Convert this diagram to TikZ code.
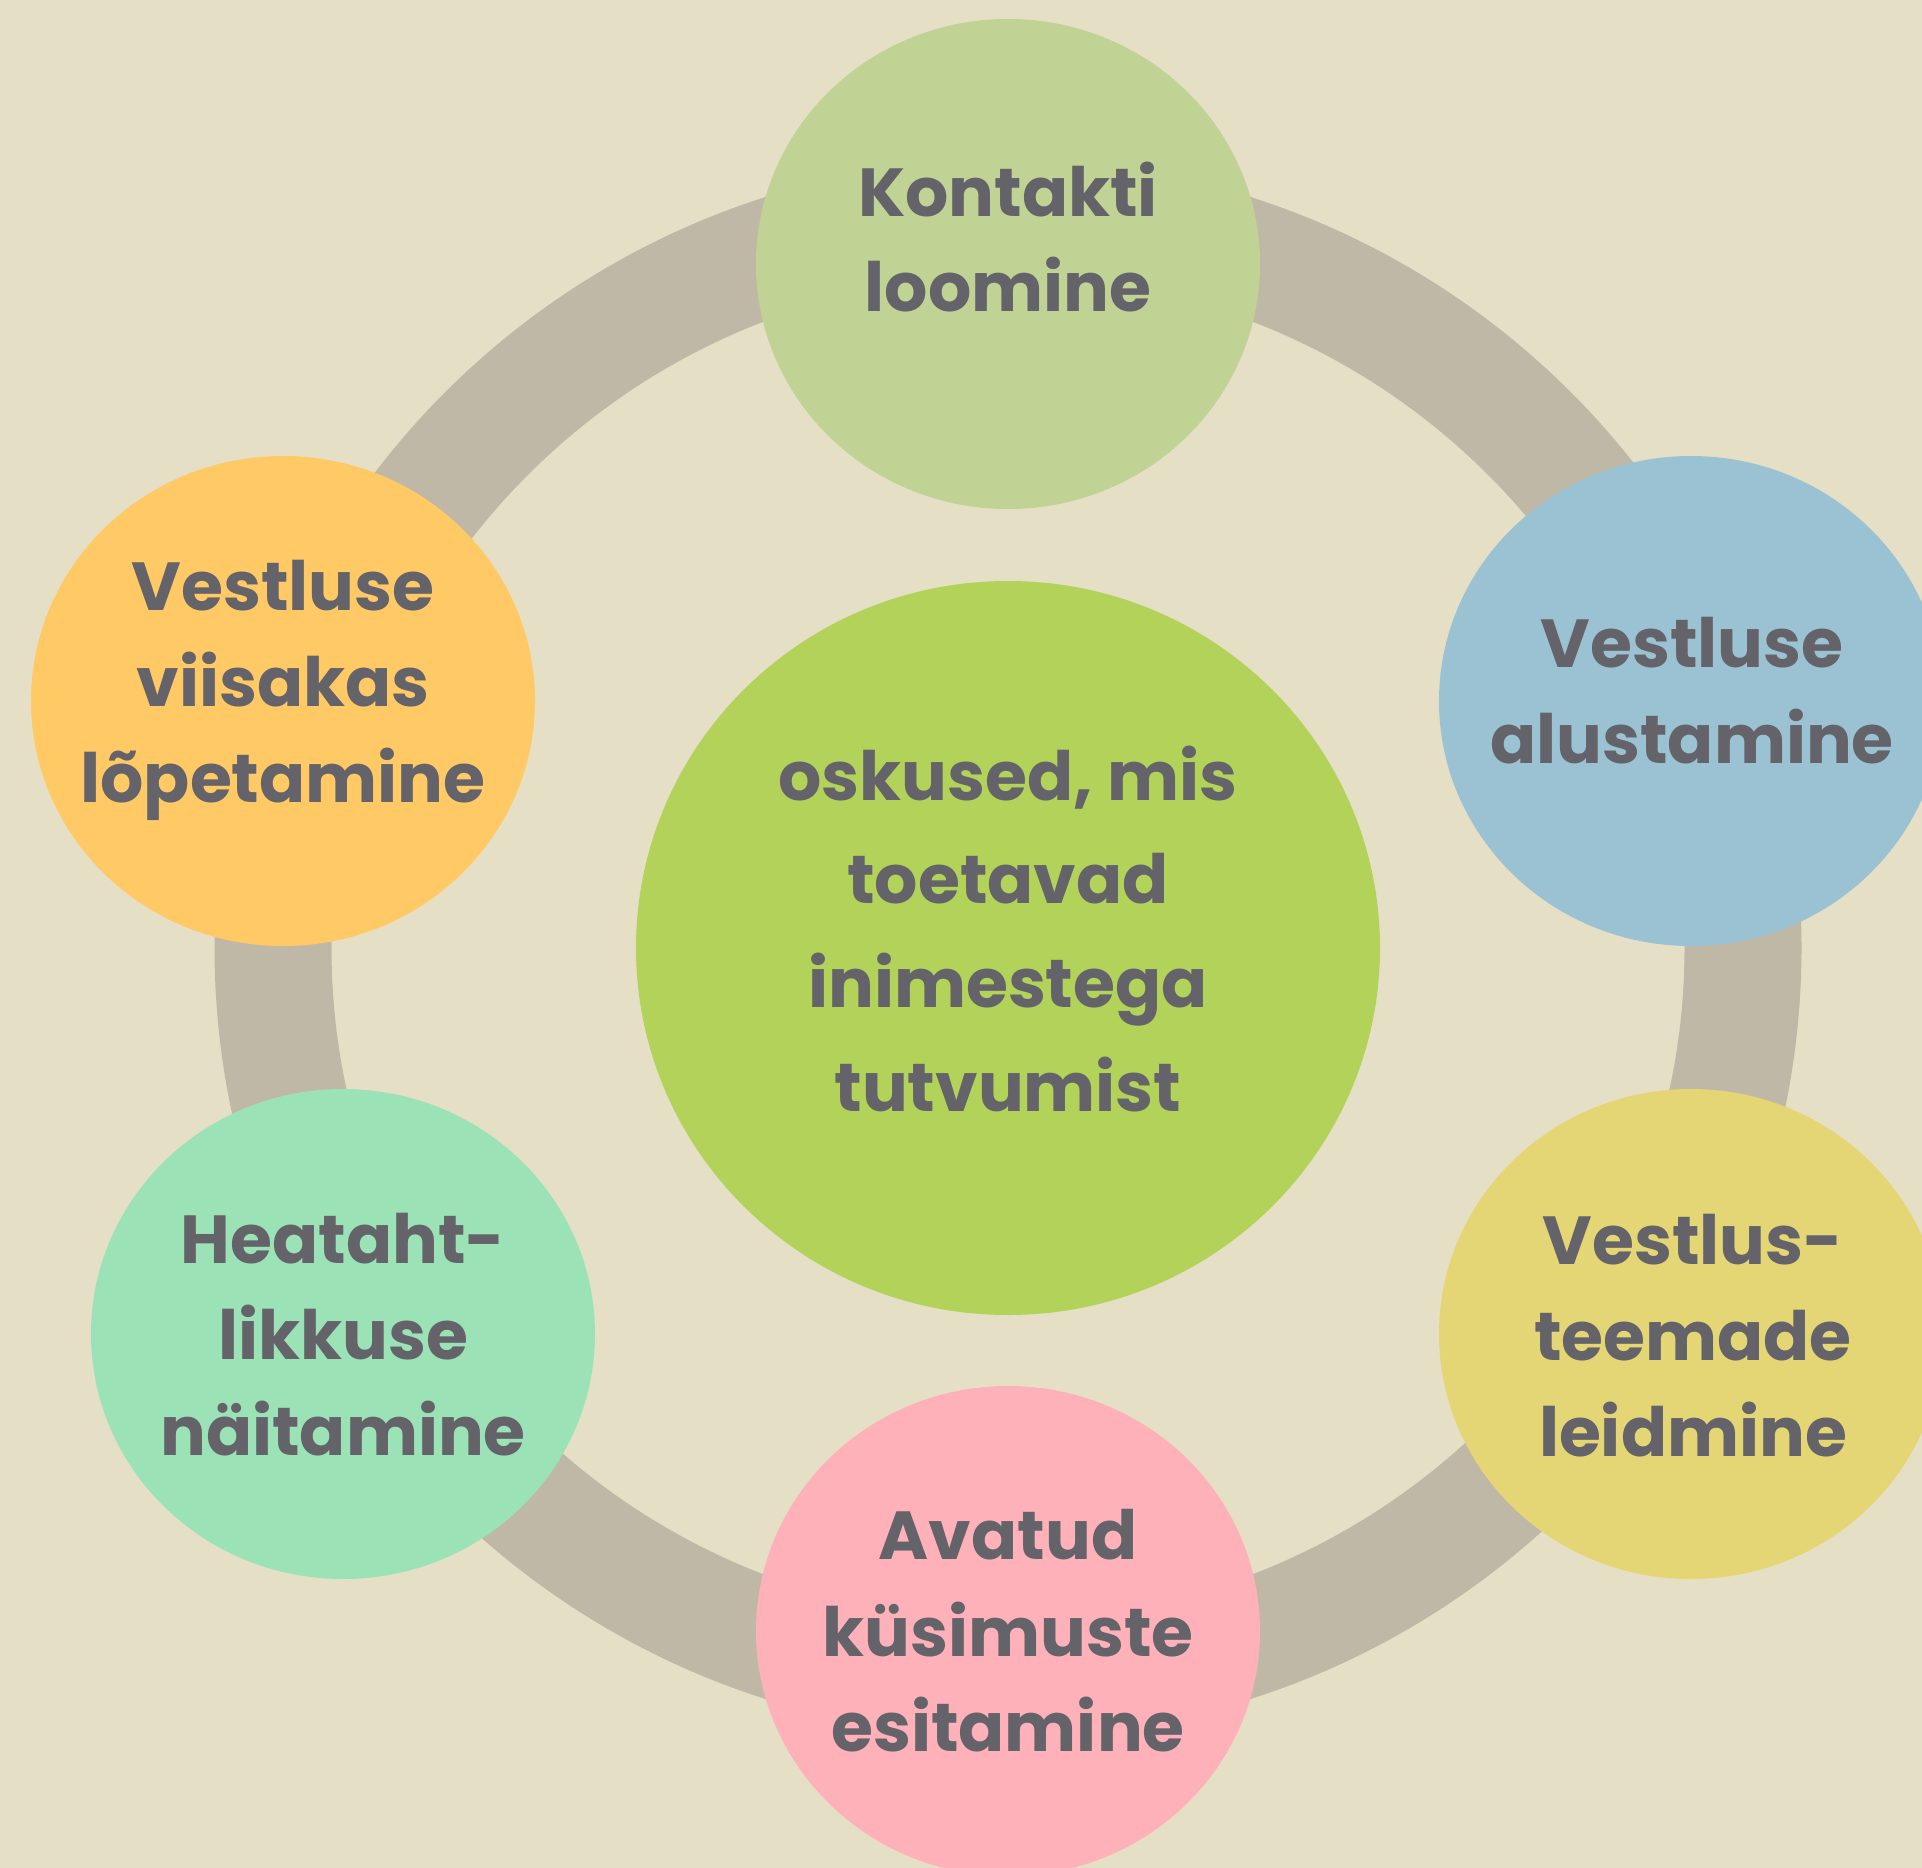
\documentclass[tikz,border=0pt]{standalone}
\usepackage{fontspec}
\newfontfamily\lbl{Poppins}
\usetikzlibrary{shapes.geometric}
\definecolor{bgc}{RGB}{229,223,198}
\definecolor{ringc}{RGB}{192,184,166}
\definecolor{txtc}{RGB}{100,99,105}
\definecolor{cgreen}{RGB}{192,211,148}
\definecolor{cblue}{RGB}{155,194,210}
\definecolor{corange}{RGB}{255,201,102}
\definecolor{ccenter}{RGB}{178,210,90}
\definecolor{cyellow}{RGB}{229,214,117}
\definecolor{cmint}{RGB}{155,227,182}
\definecolor{cpink}{RGB}{255,177,185}
\begin{document}
\begin{tikzpicture}[x=1pt,y=-1pt,
  bubble/.style={ellipse,inner sep=0pt,minimum width=504pt,minimum height=490pt},
  hub/.style={ellipse,inner sep=0pt,minimum width=744pt,minimum height=734pt},
  txt/.style={anchor=base,inner sep=0pt,text=txtc,font=\lbl\bfseries\fontsize{68}{96}\selectfont}]
\useasboundingbox (0,0) rectangle (1922,1868);
\clip (0,0) rectangle (1922,1868);
\fill[bgc] (0,0) rectangle (1922,1868);
\coordinate (ringc) at (1008,948);
\draw[ringc,line width=117pt] (ringc) ellipse [x radius=735pt, y radius=730pt];
\node[hub,fill=ccenter] (hubn) at (1008,948) {};
\node[bubble,fill=cgreen] (b1) at (1008,264) {};
\node[bubble,fill=cblue] (b2) at (1691,701) {};
\node[bubble,fill=cyellow] (b3) at (1691,1334) {};
\node[bubble,fill=cpink] (b4) at (1008,1631) {};
\node[bubble,fill=cmint] (b5) at (343,1334) {};
\node[bubble,fill=corange] (b6) at (283,701) {};
% hub text
\node[txt] (h1) at (1008,800) {oskused, mis};
\node[txt] (h2) at (1008,903) {toetavad};
\node[txt] (h3) at (1008,1007) {inimestega};
\node[txt] (h4) at (1008,1111) {tutvumist};
% top
\node[txt] (t1a) at (1008,216) {Kontakti};
\node[txt] (t1b) at (1008,311) {loomine};
% right top
\node[txt] (t2a) at (1692,667) {Vestluse};
\node[txt] (t2b) at (1692,763) {alustamine};
% right bottom
\node[txt] (t3a) at (1693,1264) {Vestlus-};
\node[txt] (t3b) at (1693,1360) {teemade};
\node[txt] (t3c) at (1693,1456) {leidmine};
% bottom
\node[txt] (t4a) at (1008,1559) {Avatud};
\node[txt] (t4b) at (1008,1656) {küsimuste};
\node[txt] (t4c) at (1008,1751) {esitamine};
% left bottom
\node[txt] (t5a) at (343,1263) {Heataht-};
\node[txt] (t5b) at (343,1359) {likkuse};
\node[txt] (t5c) at (343,1455) {näitamine};
% left top
\node[txt] (t6a) at (283,610) {Vestluse};
\node[txt] (t6b) at (283,706) {viisakas};
\node[txt] (t6c) at (283,802) {lõpetamine};
\end{tikzpicture}
\end{document}
